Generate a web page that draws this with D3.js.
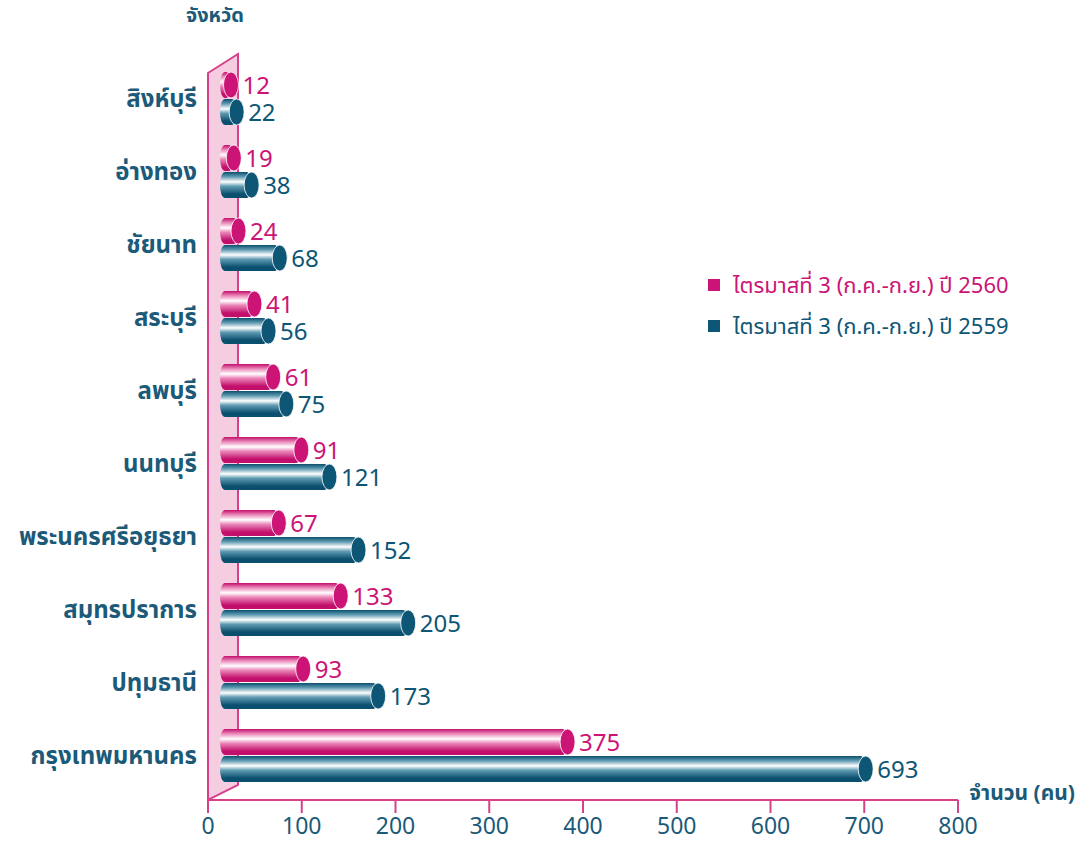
<!DOCTYPE html>
<html>
<head>
<meta charset="utf-8">
<script src="https://cdn.jsdelivr.net/npm/d3@7"></script>
<style>
  body { margin: 0; background: #fff; }
  text { font-family: "Noto Sans Thai", "Noto Sans", "DejaVu Sans", sans-serif; }
</style>
</head>
<body>
<div id="graphic"></div>
<script>
// provinces, top to bottom
var provinces = ["สิงห์บุรี", "อ่างทอง", "ชัยนาท", "สระบุรี", "ลพบุรี", "นนทบุรี",
    "พระนครศรีอยุธยา", "สมุทรปราการ", "ปทุมธานี", "กรุงเทพมหานคร"];
var values2560 = [12, 19, 24, 41, 61, 91, 67, 133, 93, 375];
var values2559 = [22, 38, 68, 56, 75, 121, 152, 205, 173, 693];
var seriesNames = ["ไตรมาสที่ 3 (ก.ค.-ก.ย.) ปี 2560", "ไตรมาสที่ 3 (ก.ค.-ก.ย.) ปี 2559"];
var xTicks = [0, 100, 200, 300, 400, 500, 600, 700, 800];

var pink = "#cc1477",
    teal = "#0d5676",
    textTeal = "#1b5a78";

var width = 1090, height = 845;
var depth = 30, barH = 26;

var svg = d3.select("#graphic").append("svg")
    .attr("width", width)
    .attr("height", height);

var x = d3.scaleLinear().domain([0, 800]).range([208, 958]);
var y = d3.scalePoint().domain(provinces).range([98, 755]);
var axisY = 800;

var defs = svg.append("defs");
function cylGrad(id, dark, mid) {
    var g = defs.append("linearGradient").attr("id", id)
        .attr("x1", 0).attr("y1", 0).attr("x2", 0).attr("y2", 1);
    [[0, dark], [0.18, mid], [0.38, "#ffffff"], [0.55, mid], [0.85, dark], [1, dark]]
        .forEach(function (s) {
            g.append("stop").attr("offset", s[0]).attr("stop-color", s[1]);
        });
}
cylGrad("gPink", "#c20f6c", "#ea86b8");
cylGrad("gTeal", "#0a4f6e", "#5f9ab2");

// back wall
var x0 = x(0);
svg.append("polygon")
    .attr("points", [[x0, 73], [x0 + depth, 54], [x0 + depth, 785], [x0, axisY]].join(" "))
    .attr("fill", "#f5cde0")
    .attr("stroke", "#d9408a")
    .attr("stroke-width", 2);

// bars
var rows = provinces.map(function (p, i) {
    return { name: p, v1: values2560[i], v2: values2559[i] };
});

function drawBars(key, off, grad, col) {
    var g = svg.append("g");
    rows.forEach(function (d) {
        var cy = y(d.name) + off;
        var rx = 7.5;
        var xs = x0 + 12, xe = Math.max(x(d[key]) + 8, xs + 11);
        g.append("rect")
            .attr("x", xs).attr("y", cy - barH / 2)
            .attr("width", xe - xs).attr("height", barH)
            .attr("rx", 5).attr("ry", barH / 2)
            .attr("fill", "url(#" + grad + ")");
        g.append("ellipse")
            .attr("cx", xe).attr("cy", cy)
            .attr("rx", rx).attr("ry", barH / 2)
            .attr("fill", col)
            .attr("stroke", "#ffffff").attr("stroke-width", 0.8);
        g.append("text")
            .attr("x", xe + rx + 4).attr("y", cy)
            .attr("dy", "0.36em")
            .attr("font-size", 24)
            .attr("fill", col)
            .text(d[key]);
    });
}
drawBars("v1", -13, "gPink", pink);
drawBars("v2", 14, "gTeal", teal);

// category labels
svg.append("g").selectAll("text")
    .data(provinces)
    .enter().append("text")
    .attr("x", 197)
    .attr("y", function (d) { return y(d); })
    .attr("dy", "0.36em")
    .attr("text-anchor", "end")
    .attr("font-size", 24)
    .attr("font-weight", "bold")
    .attr("fill", textTeal)
    .text(function (d) { return d; });

// x axis
var axis = svg.append("g");
axis.append("line")
    .attr("x1", x0).attr("x2", x(800))
    .attr("y1", axisY).attr("y2", axisY)
    .attr("stroke", "#d9408a").attr("stroke-width", 2);
axis.selectAll(".tick")
    .data(xTicks)
    .enter().append("line")
    .attr("x1", function (d) { return x(d); })
    .attr("x2", function (d) { return x(d); })
    .attr("y1", axisY).attr("y2", axisY + 13)
    .attr("stroke", "#d9408a").attr("stroke-width", 2);
axis.selectAll(".lbl")
    .data(xTicks)
    .enter().append("text")
    .attr("x", function (d) { return x(d); })
    .attr("y", 826)
    .attr("dy", "0.36em")
    .attr("text-anchor", "middle")
    .attr("font-size", 23)
    .attr("fill", textTeal)
    .text(function (d) { return d; });

// axis titles
svg.append("text")
    .attr("x", 215).attr("y", 22)
    .attr("text-anchor", "middle")
    .attr("font-size", 20).attr("font-weight", "bold")
    .attr("fill", textTeal)
    .text("จังหวัด");
svg.append("text")
    .attr("x", 1075).attr("y", 800)
    .attr("text-anchor", "end")
    .attr("font-size", 21).attr("font-weight", "bold")
    .attr("fill", textTeal)
    .text("จำนวน (คน)");

// legend
var legend = svg.append("g");
[pink, teal].forEach(function (c, i) {
    var ly = 285 + i * 41;
    legend.append("rect")
        .attr("x", 708).attr("y", ly - 6)
        .attr("width", 12).attr("height", 12)
        .attr("fill", c);
    legend.append("text")
        .attr("x", 733).attr("y", ly)
        .attr("dy", "0.36em")
        .attr("font-size", 22)
        .attr("fill", c)
        .text(seriesNames[i]);
});
</script>
</body>
</html>
